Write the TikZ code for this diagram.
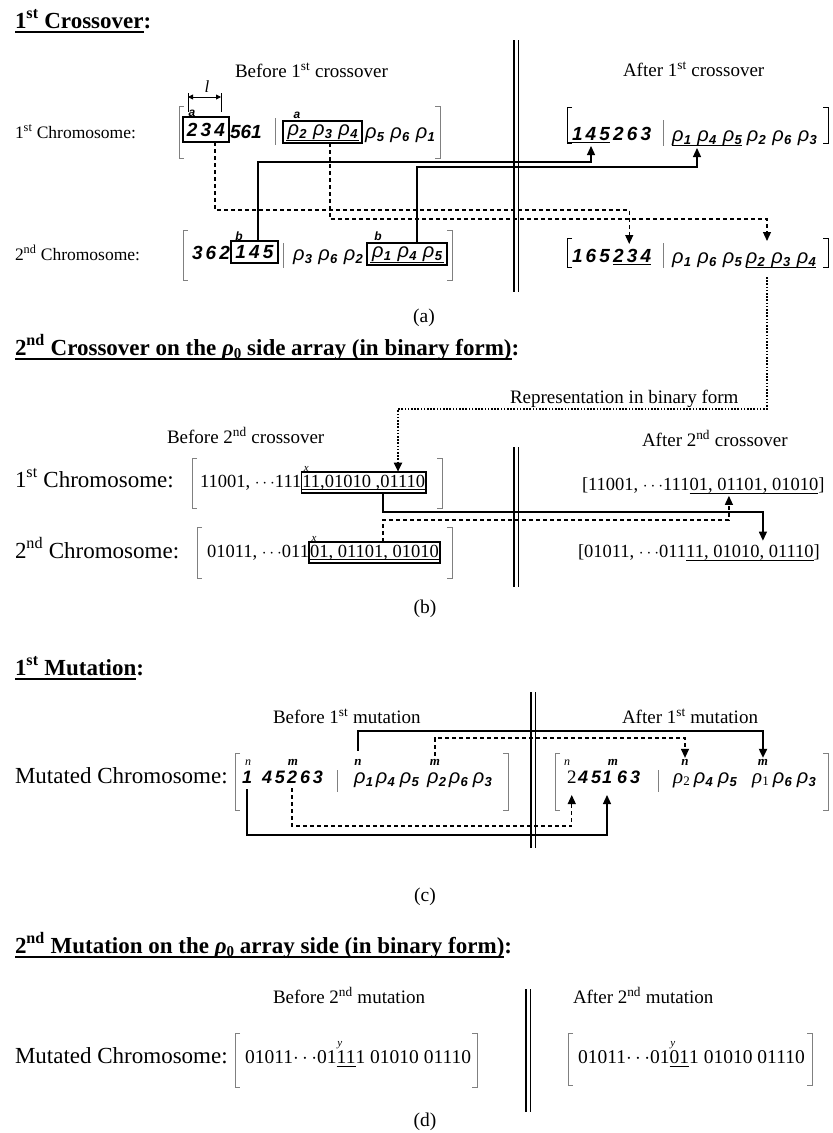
\documentclass[tikz,border=0pt]{standalone}
\usepackage{fontspec}
\setmainfont{Liberation Serif}
\newfontfamily\sans{Liberation Sans}
\usetikzlibrary{arrows.meta}
\newcommand\fsz[1]{\fontsize{#1}{#1}\selectfont}
\newcommand\rr[1]{{\sans\itshape ρ\kern0.3pt\raisebox{-0.3ex}{\bfseries\fsz{13}#1}}}
\newcommand\rs[1]{{\fsz{21}\itshape ρ\kern0.3pt\raisebox{-0.3ex}{\upshape\fsz{13}#1}}}
\newcommand\rsp{\hspace{6.5pt}}
\newcommand\rhob{{\bfseries\itshape ρ\raisebox{-0.3ex}{\upshape\fsz{15}0}}}
\newcommand\dgf{\fsz{19}\sans\bfseries\itshape}
\newcommand\mylbr[4]{\draw[#4] ({#1+5},#2) -- (#1,#2) -- (#1,#3) -- ({#1+5},#3);}
\newcommand\myrbr[4]{\draw[#4] ({#1-5},#2) -- (#1,#2) -- (#1,#3) -- ({#1-5},#3);}
\tikzset{
  ttl/.style={font=\fsz{23}\bfseries, anchor=base west},
  lbl/.style={font=\fsz{17.5}, anchor=base west},
  lblb/.style={font=\fsz{23}, anchor=base west},
  captxt/.style={font=\fsz{19}, anchor=base west},
  dg/.style={font=\dgf, anchor=base west},
  dgc/.style={font=\fsz{18}\sans\bfseries\itshape, anchor=base west},
  rh/.style={font=\fsz{20}, anchor=base west},
  bin/.style={font=\fsz{18.5}, anchor=base west},
  bind/.style={font=\fsz{19.5}, anchor=base west},
  lab/.style={font=\fsz{12}\sans\bfseries\itshape, anchor=base},
  labm/.style={font=\fsz{13}\bfseries\itshape, anchor=base},
  labi/.style={font=\fsz{11}\itshape},
  gbr/.style={draw=gray, line width=0.8pt},
  bbr/.style={draw=black, line width=0.9pt},
  gbox/.style={draw, line width=1.6pt},
  ul/.style={line width=0.8pt},
  tul/.style={line width=1.5pt},
  conn/.style={line width=1.2pt},
  connb/.style={line width=1.9pt},
  dsh/.style={line width=1.2pt, dash pattern=on 4pt off 3pt},
  dotl/.style={line width=1.8pt, dash pattern=on 1.6pt off 1.6pt},
  arrowtip/.style={-{Triangle[width=8pt,length=9pt]}},
  dbl/.style={line width=1.3pt}
}
\begin{document}
\begin{tikzpicture}[x=1pt,y=-1pt, every node/.style={inner sep=0pt, outer sep=0pt}]
\fill[white] (0,0) rectangle (833,1133);
\useasboundingbox (0,0) rectangle (833,1133);

%%%%%%%%%%%%%%%% (a)
\node[ttl] (t1) at (15,28) {1\textsuperscript{st} Crossover};
\node[ttl] (t1c) at (t1.base east) {:};
\draw[tul] ([yshift=-4pt]t1.base west) -- ([yshift=-4pt]t1.base east);

\node[captxt] (bef1) at (235,77) {Before 1\textsuperscript{st} crossover};
\node[captxt] (aft1) at (623,76) {After 1\textsuperscript{st} crossover};
\node[lbl] (c1a) at (15,138) {1\textsuperscript{st} Chromosome:};
\node[lbl] (c2a) at (15,260) {2\textsuperscript{nd} Chromosome:};

% chromosome 1 before
\mylbr{179}{106}{158}{gbr}
\node[gbox, minimum width=46, minimum height=25, font=\dgf] (bx234) at (206,129.5) {2\,3\,4};
\node[lab] (la1) at (192,116) {a};
\draw[line width=0.9pt] (188,93) -- (188,112);
\draw[line width=0.9pt] (221,93) -- (221,112);
\draw[line width=0.9pt, {Triangle[width=5pt,length=5pt]}-{Triangle[width=5pt,length=5pt]}] (188,97) -- (221,97);
\node[font=\fsz{17}\itshape] (ll) at (207,87) {l};
\node[dg] (s561) at (230,138) {561};
\draw[gbr] (275,118) -- (275,145);
\node[gbox, minimum width=79, minimum height=22, font=\fsz{20}] (bxr1) at (322.5,132) {\rr2\rsp\rr3\rsp\rr4};
\draw[ul] ([shift={(3pt,3pt)}]bxr1.south west) -- ([shift={(-3pt,3pt)}]bxr1.south east);
\node[lab] (la2) at (297,118.5) {a};
\node[rh] (r561) at (365,138) {\rr5\rsp\rr6\rsp\rr1};
\myrbr{440}{106}{158}{gbr}

% chromosome 2 before
\mylbr{183}{230}{280}{gbr}
\node[dg] (s362) at (192,259) {3\,6\,2};
\node[gbox, minimum width=47, minimum height=22, font=\dgf] (bx145) at (254.5,252) {1\,4\,5};
\node[lab] (lb1) at (239,240) {b};
\draw[gbr] (283,243) -- (283,268);
\node[rh] (r362) at (293,260) {\rr3\rsp\rr6\rsp\rr2};
\node[gbox, minimum width=80, minimum height=22, font=\fsz{20}] (bxr2) at (407,254) {\rr1\rsp\rr4\rsp\rr5};
\draw[ul] ([shift={(3pt,3pt)}]bxr2.south west) -- ([shift={(-3pt,3pt)}]bxr2.south east);
\node[lab] (lb2) at (378,240.5) {b};
\myrbr{452}{230}{280}{gbr}

% chromosome 1 after
\mylbr{567}{107}{143}{bbr}
\node[dg] (n145) at (572,140) {1\,4\,5};
\node[dg] (n263) at (n145.base east) {\,2\,6\,3};
\draw[ul] ([xshift=-5pt,yshift=-2.5pt]n145.base west) -- ([yshift=-2.5pt]n145.base east);
\draw[gbr] (663,120) -- (663,146);
\node[rh] (n145r) at (672,141) {\rr1\rsp\rr4\rsp\rr5};
\node[rh] (n263r) at ([xshift=5pt]n145r.base east) {\rr2\rsp\rr6\rsp\rr3};
\draw[ul] ([yshift=-4pt]n145r.base west) -- ([yshift=-4pt]n145r.base east);
\myrbr{828}{107}{143}{bbr}

% chromosome 2 after
\mylbr{567}{238}{267}{bbr}
\node[dg] (m165) at (572,262) {1\,6\,5\,};
\node[dg] (m234) at (m165.base east) {2\,3\,4};
\draw[ul] ([yshift=-2.5pt]m234.base west) -- ([yshift=-2.5pt]m234.base east);
\draw[gbr] (663,243) -- (663,268);
\node[rh] (m165r) at (672,263) {\rr1\rsp\rr6\rsp\rr5};
\node[rh] (m234r) at ([xshift=4pt]m165r.base east) {\rr2\rsp\rr3\rsp\rr4};
\draw[ul] ([yshift=-4pt]m234r.base west) -- ([yshift=-4pt]m234r.base east);
\myrbr{828}{238}{267}{bbr}

% separator
\draw[dbl] (514,40) -- (514,292);
\draw[dbl] (518.5,40) -- (518.5,292);

% connectors (a)
\coordinate (h1) at (0,162);
\coordinate (h2) at (0,167);
\coordinate (h3) at (0,210);
\coordinate (h4) at (0,219);
\coordinate (ya) at (0,241);
\coordinate (ya2) at (0,244);
\coordinate (vxa) at (697,0);
\coordinate (vxb) at (767,0);
\draw[conn, arrowtip] ([xshift=3.5pt]bx145.north) |- (n145.base |- h1) -- ([yshift=-6pt]n145.base);
\draw[conn, arrowtip] ([xshift=10pt]bxr2.north) |- (vxa |- h2) -- ([yshift=-7pt]vxa |- n145r.base);
\draw[dsh, arrowtip] ([xshift=9pt]bx234.south) |- ([xshift=-3pt]m234.north |- h3) -- ([xshift=-3pt]m234.north |- ya2);
\draw[dsh, arrowtip] ([xshift=7.5pt]bxr1.south) |- (vxb |- h4) -- (vxb |- ya);

\node[captxt] (rep) at (510,403) {Representation in binary form};
\node[font=\fsz{19.5}] (capa) at (424,318) {(a)};

%%%%%%%%%%%%%%%% (b)
\node[ttl] (t2) at (15,355) {2\textsuperscript{nd} Crossover on the \rhob\ side array (in binary form)};
\node[ttl] (t2c) at (t2.base east) {:};
\draw[tul] ([yshift=-4pt]t2.base west) -- ([yshift=-4pt]t2.base east);

\node[captxt] (bef2) at (167,443) {Before 2\textsuperscript{nd} crossover};
\node[captxt] (aft2) at (642,446) {After 2\textsuperscript{nd} crossover};
\node[lblb] (c1b) at (15,487) {1\textsuperscript{st} Chromosome:};
\node[lblb] (c2b) at (15,558) {2\textsuperscript{nd} Chromosome:};

\mylbr{192}{458}{508}{gbr}
\node[bin] (b1a) at (200,487) {11001, $\cdots$111};
\node[gbox, anchor=base west, inner xsep=1pt, inner ysep=3pt, font=\fsz{18.5}] (bxb1) at (b1a.base east) {11,01010 ,01110};
\draw[ul] ([xshift=1pt,yshift=-2pt]bxb1.base west) -- ([xshift=-1pt,yshift=-2pt]bxb1.base east);
\node[labi, anchor=south] (xb1) at ([xshift=5pt,yshift=0.5pt]bxb1.north west) {x};
\myrbr{442}{458}{508}{gbr}

\mylbr{197}{527}{578}{gbr}
\node[bin] (b2a) at (207,557) {01011, $\cdots$011};
\node[gbox, anchor=base west, inner xsep=1pt, inner ysep=3pt, font=\fsz{18.5}] (bxb2) at (b2a.base east) {01, 01101, 01010};
\draw[ul] ([xshift=1pt,yshift=-2pt]bxb2.base west) -- ([xshift=-1pt,yshift=-2pt]bxb2.base east);
\node[labi, anchor=south] (xb2) at ([xshift=5pt,yshift=0.5pt]bxb2.north west) {x};
\myrbr{452}{527}{578}{gbr}

\node[bin] (ab1) at (582,490) {[11001, $\cdots$111};
\node[bin] (ab1u) at (ab1.base east) {01, 01101, 01010};
\node[bin] (ab1e) at (ab1u.base east) {]};
\draw[ul] ([yshift=-3pt]ab1u.base west) -- ([yshift=-3pt]ab1u.base east);
\node[bin] (ab2) at (578,557) {[01011, $\cdots$011};
\node[bin] (ab2u) at (ab2.base east) {11, 01010, 01110};
\node[bin] (ab2e) at (ab2u.base east) {]};
\draw[ul] ([yshift=-3pt]ab2u.base west) -- ([yshift=-3pt]ab2u.base east);

\draw[dbl] (514,447) -- (514,587);
\draw[dbl] (518.5,447) -- (518.5,587);

\coordinate (hb1) at (0,512);
\coordinate (hb2) at (0,520);
\coordinate (hd) at (0,409);
\coordinate (vx1) at (383,0);
\coordinate (vx2) at (398,0);
\draw[dotl, arrowtip] ([yshift=-14pt]vxb |- m234r.base) |- (vx2 |- hd) -- (vx2 |- bxb1.north);
\draw[conn, arrowtip] (vx1 |- bxb1.south) |- ([xshift=13pt]ab2u.north |- hb1) -- ([xshift=13pt,yshift=4pt]ab2u.north);
\draw[dsh, arrowtip] (vx1 |- bxb2.north) |- ([xshift=-25pt]ab1u.south |- hb2) -- ([xshift=-25pt,yshift=-3pt]ab1u.south);

\node[font=\fsz{19.5}] (capb) at (425,609) {(b)};

%%%%%%%%%%%%%%%% (c)
\node[ttl] (t3) at (15,675) {1\textsuperscript{st} Mutation};
\node[ttl] (t3c) at (t3.base east) {:};
\draw[tul] ([yshift=-4pt]t3.base west) -- ([yshift=-4pt]t3.base east);

\node[captxt] (bef3) at (273,723) {Before 1\textsuperscript{st} mutation};
\node[captxt] (aft3) at (622,723) {After 1\textsuperscript{st} mutation};
\draw[dbl] (531,692) -- (531,848);
\draw[dbl] (535.5,692) -- (535.5,848);
\node[lblb] (mc1) at (15,783) {Mutated Chromosome:};

\mylbr{235}{753}{810}{gbr}
\node[dgc] (d1) at (242,783) {1};
\node[dgc] (d45) at (262,783) {4\,5};
\node[dgc] (d2) at (287,783) {2};
\node[dgc] (d63) at (300,783) {6\,3};
\node[font=\fsz{12}\itshape, anchor=base] (nn1) at (248,765) {n};
\node[labm] (mm1) at (293,765) {m};
\draw[gbr] (337,770) -- (337,792);
\node[rh] (cr1) at (354,783) {\rr1};
\node[rh] (cr45) at ([xshift=3pt]cr1.base east) {\rr4 \rr5};
\node[rh] (cr2) at (427,783) {\rr2};
\node[rh] (cr63) at ([xshift=3pt]cr2.base east) {\rr6 \rr3};
\node[labm] (nb1) at (358,765) {n};
\node[labm] (mb2) at (435,765) {m};
\myrbr{508}{753}{810}{gbr}

\mylbr{555}{753}{810}{gbr}
\node[font=\fsz{12}\itshape, anchor=base] (nn2) at (567,765) {n};
\node[font=\fsz{19}, anchor=base west] (e2) at (567,783) {2};
\node[dgc] (e45) at (578,783) {4\,5};
\node[dgc] (e1) at (602,783) {1};
\node[dgc] (e63) at (617,783) {6\,3};
\node[labm] (mm2) at (613,765) {m};
\draw[gbr] (658,770) -- (658,792);
\node[rh] (fr2) at (673,783) {\rs2};
\node[rh] (fr45) at ([xshift=4pt]fr2.base east) {\rr4 \rr5};
\node[rh] (fr1) at (752,783) {\rs1};
\node[rh] (fr63) at ([xshift=4pt]fr1.base east) {\rr6 \rr3};
\node[labm] (na2) at (685,765) {n};
\node[labm] (ma1) at (763,765) {m};
\myrbr{828}{753}{810}{gbr}

\coordinate (hc1) at (0,731);
\coordinate (hc2) at (0,738);
\coordinate (hc3) at (0,835);
\coordinate (hc4) at (0,826);
\coordinate (yc) at (0,795);
\draw[connb, arrowtip] ([yshift=8pt]nb1.north) |- (ma1.north |- hc1) -- ([yshift=1pt]ma1.north);
\draw[dsh, arrowtip] ([yshift=3pt]mb2.north) |- (na2.north |- hc2) -- ([yshift=1pt]na2.north);
\draw[conn, arrowtip] ([yshift=-6pt]d1.south) |- (e1.south |- hc3) -- (e1.south |- yc);
\draw[dsh, arrowtip] ([yshift=-5pt]d2.south) |- (e2.south |- hc4) -- (e2.south |- yc);

\node[font=\fsz{19.5}] (capc) at (425,897) {(c)};

%%%%%%%%%%%%%%%% (d)
\node[ttl] (t4) at (15,953) {2\textsuperscript{nd} Mutation on the \rhob\ array side (in binary form)};
\node[ttl] (t4c) at (t4.base east) {:};
\draw[tul] ([yshift=-4pt]t4.base west) -- ([yshift=-4pt]t4.base east);

\node[captxt] (bef4) at (273,1003) {Before 2\textsuperscript{nd} mutation};
\node[captxt] (aft4) at (573,1003) {After 2\textsuperscript{nd} mutation};
\draw[dbl] (526,989) -- (526,1112);
\draw[dbl] (530.5,989) -- (530.5,1112);
\node[lblb] (mc2) at (15,1063) {Mutated Chromosome:};

\mylbr{235}{1033}{1087}{gbr}
\node[bind] (g1) at (245,1063) {01011$\cdots$01};
\node[bind] (g2) at (g1.base east) {11};
\node[bind] (g3) at (g2.base east) {1 01010 01110};
\draw[ul] ([yshift=-3pt]g2.base west) -- ([yshift=-3pt]g2.base east);
\node[labi, anchor=south] (gy) at ([xshift=3pt,yshift=1pt]g2.north west) {y};
\myrbr{477}{1033}{1087}{gbr}

\mylbr{568}{1033}{1085}{gbr}
\node[bind] (k1) at (578,1063) {01011$\cdots$01};
\node[bind] (k2) at (k1.base east) {01};
\node[bind] (k3) at (k2.base east) {1 01010 01110};
\draw[ul] ([yshift=-3pt]k2.base west) -- ([yshift=-3pt]k2.base east);
\node[labi, anchor=south] (ky) at ([xshift=3pt,yshift=1pt]k2.north west) {y};
\myrbr{812}{1033}{1085}{gbr}

\node[font=\fsz{19.5}] (capd) at (425,1122) {(d)};
\end{tikzpicture}
\end{document}
